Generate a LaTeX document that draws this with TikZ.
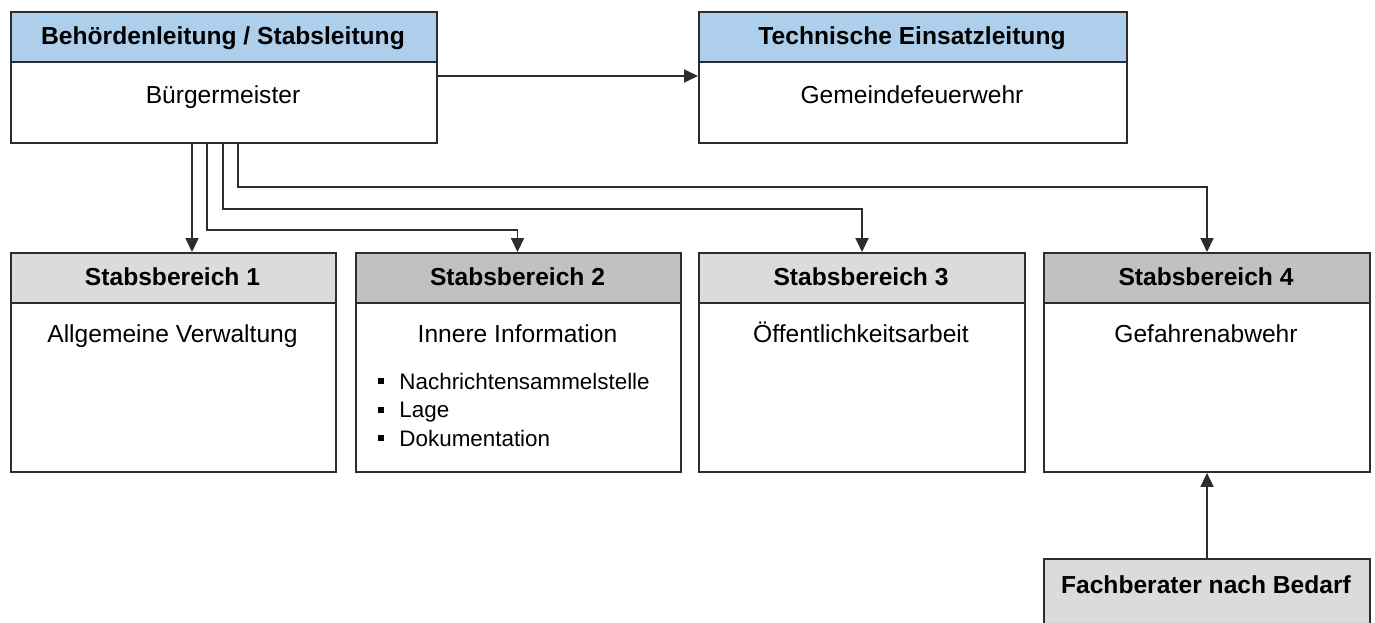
\documentclass[tikz,border=0pt]{standalone}
\usepackage{fontspec}
\setmainfont{Liberation Sans}
\usetikzlibrary{arrows.meta}
\definecolor{headblue}{RGB}{174,207,235}
\definecolor{lgray}{RGB}{218,219,221}
\definecolor{dgray}{RGB}{192,193,195}
\definecolor{lcol}{RGB}{45,45,45}
\newcommand{\blt}{\rule[0.22em]{0.25em}{0.25em}\hspace{0.7em}}
\begin{document}
\begin{tikzpicture}[x=1pt,y=-1pt,
  outer/.style={draw=lcol, line width=1.9pt, anchor=north west, inner sep=0pt, fill=white},
  head/.style={draw=lcol, line width=1.9pt, anchor=north west, inner sep=0pt, minimum height=50pt},
  htext/.style={font=\fontsize{24.6}{28}\selectfont\bfseries, inner sep=0pt, anchor=base},
  body/.style={font=\fontsize{24.6}{28}\selectfont, inner sep=0pt, anchor=base},
  conn/.style={draw=lcol, line width=1.9pt, -{Triangle[length=14pt,width=13pt]}}]
\useasboundingbox (0,0) rectangle (1375,622);
\clip (0,0) rectangle (1375,622);
\fill[white] (0,0) rectangle (1375,622);
% top boxes
\node[outer, minimum width=426pt, minimum height=131pt] (bl) at (10,11) {};
\node[head, fill=headblue, minimum width=426pt] (blh) at (10,11) {};
\node[htext] (blht) at (223,44) {Behördenleitung / Stabsleitung};
\node[body] (blt) at (223,103) {Bürgermeister};
\node[outer, minimum width=428pt, minimum height=131pt] (te) at (698,11) {};
\node[head, fill=headblue, minimum width=428pt] (teh) at (698,11) {};
\node[htext] (teht) at (912,44) {Technische Einsatzleitung};
\node[body] (tet) at (912,103) {Gemeindefeuerwehr};
% Stabsbereiche
\node[outer, minimum width=325pt, minimum height=219pt] (s1) at (10,252) {};
\node[head, fill=lgray, minimum width=325pt] (s1h) at (10,252) {};
\node[htext] (s1ht) at (172.5,285) {Stabsbereich 1};
\node[body] (s1t) at (172.5,342) {Allgemeine Verwaltung};
\node[outer, minimum width=325pt, minimum height=219pt] (s2) at (355,252) {};
\node[head, fill=dgray, minimum width=325pt] (s2h) at (355,252) {};
\node[htext] (s2ht) at (517.5,285) {Stabsbereich 2};
\node[body] (s2t) at (517.5,342) {Innere Information};
\node[body, anchor=base west, align=left, font=\fontsize{22.4}{28.5}\selectfont] (s2l) at (378,446)
  {\blt Nachrichtensammelstelle\\ \blt Lage\\ \blt Dokumentation};
\node[outer, minimum width=326pt, minimum height=219pt] (s3) at (698,252) {};
\node[head, fill=lgray, minimum width=326pt] (s3h) at (698,252) {};
\node[htext] (s3ht) at (861,285) {Stabsbereich 3};
\node[body] (s3t) at (861,342) {Öffentlichkeitsarbeit};
\node[outer, minimum width=326pt, minimum height=219pt] (s4) at (1043,252) {};
\node[head, fill=dgray, minimum width=326pt] (s4h) at (1043,252) {};
\node[htext] (s4ht) at (1206,285) {Stabsbereich 4};
\node[body] (s4t) at (1206,342) {Gefahrenabwehr};
% Fachberater
\node[head, fill=lgray, minimum width=326pt, minimum height=80pt] (fb) at (1043,558) {};
\node[htext] (fbt) at (1206,593) {Fachberater nach Bedarf};
% connectors
\draw[conn] (bl.east |- 0,76) -- (te.west |- 0,76);
\draw[conn] (bl.south -| 192,0) -- (s1.north -| 192,0);
\draw[conn] (bl.south -| 207,0) -- (207,230) -- (517.5,230) -- (s2.north -| 517.5,0);
\draw[conn] (bl.south -| 223,0) -- (223,209) -- (862,209) -- (s3.north -| 862,0);
\draw[conn] (bl.south -| 238,0) -- (238,187) -- (1207,187) -- (s4.north -| 1207,0);
\draw[conn] (fb.north -| 1207,0) -- (s4.south -| 1207,0);
\end{tikzpicture}
\end{document}
